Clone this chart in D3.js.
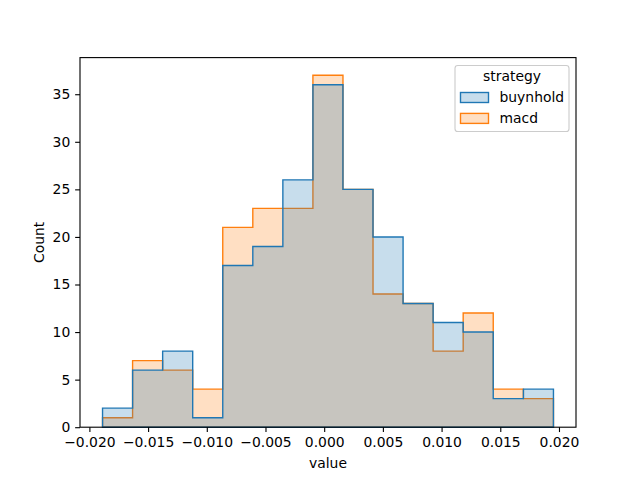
<!DOCTYPE html>
<html>
<head>
<meta charset="utf-8">
<script src="https://cdn.jsdelivr.net/npm/d3@7"></script>
<style>
  body { margin: 0; background: #fff; }
  svg { display: block; font-family: "DejaVu Sans", sans-serif; }
</style>
</head>
<body>
<svg id="chart" width="640" height="480"></svg>
<script>
// Data
const binEdges = [-0.01888, -0.01632, -0.01376, -0.01120, -0.00864, -0.00608, -0.00352, -0.00096,
                  0.00160, 0.00416, 0.00672, 0.00928, 0.01184, 0.01440, 0.01697, 0.01953];
const buynhold = [2, 6, 8, 1, 17, 19, 26, 36, 25, 20, 13, 11, 10, 3, 4];
const macd     = [1, 7, 6, 4, 21, 23, 23, 37, 25, 14, 13, 8, 12, 4, 3];
const seriesNames = ["buynhold", "macd"];
const seriesColors = ["#1f77b4", "#ff7f0e"];
const xTicks = [-0.020, -0.015, -0.010, -0.005, 0.000, 0.005, 0.010, 0.015, 0.020];
const yTicks = [0, 5, 10, 15, 20, 25, 30, 35];

const svg = d3.select("#chart");
const L = 80, R = 576, T = 57.6, B = 427.2;
const fs = 13.9;

const x = d3.scaleLinear().domain([-0.0208, 0.02145]).range([L, R]);
const y = d3.scaleLinear().domain([0, 38.85]).range([B, T]);

function stepPoints(counts) {
  const pts = [[binEdges[0], 0]];
  counts.forEach((c, i) => { pts.push([binEdges[i], c]); pts.push([binEdges[i + 1], c]); });
  pts.push([binEdges[binEdges.length - 1], 0]);
  return pts;
}
const line = d3.line().x(d => x(d[0])).y(d => y(d[1]));

const series = [buynhold, macd];
// draw in reverse order so first level sits on top
for (let k = series.length - 1; k >= 0; k--) {
  const col = d3.color(seriesColors[k]);
  const fill = d3.color(seriesColors[k]); fill.opacity = 0.25;
  svg.append("path")
    .attr("d", line(stepPoints(series[k])) + "Z")
    .attr("fill", fill.toString())
    .attr("stroke", col.toString())
    .attr("stroke-width", 1.39)
    .attr("stroke-linejoin", "miter");
}

// Axes
const xAxis = d3.axisBottom(x).tickValues(xTicks).tickSize(4.86).tickPadding(4.86)
  .tickFormat(d => d3.format(".3f")(d).replace("-", "\u2212"));
const gx = svg.append("g").attr("transform", `translate(0,${B})`).call(xAxis);
const yAxis = d3.axisLeft(y).tickValues(yTicks).tickSize(4.86).tickPadding(4.86)
  .tickFormat(d3.format("d"));
const gy = svg.append("g").attr("transform", `translate(${L},0)`).call(yAxis);
[gx, gy].forEach(g => {
  g.select(".domain").remove();
  g.selectAll(".tick line").attr("stroke", "#000").attr("stroke-width", 1.11);
  g.selectAll(".tick text").attr("font-size", fs).attr("fill", "#000")
    .attr("font-family", "DejaVu Sans, sans-serif");
});

// Spines
svg.append("rect").attr("x", L).attr("y", T).attr("width", R - L).attr("height", B - T)
  .attr("fill", "none").attr("stroke", "#000").attr("stroke-width", 1.11);

// Axis labels
svg.append("text").attr("x", (L + R) / 2).attr("y", 468).attr("text-anchor", "middle")
  .attr("font-size", fs).text("value");
svg.append("text").attr("transform", `translate(44,${(T + B) / 2}) rotate(-90)`)
  .attr("text-anchor", "middle").attr("font-size", fs).text("Count");

// Legend
const lg = svg.append("g");
lg.append("rect").attr("x", 455).attr("y", 65.5).attr("width", 114).attr("height", 66)
  .attr("rx", 2.8).attr("fill", "rgba(255,255,255,0.8)").attr("stroke", "#cccccc").attr("stroke-width", 1.11);
lg.append("text").attr("x", 512).attr("y", 80.5).attr("text-anchor", "middle")
  .attr("font-size", fs).text("strategy");
seriesNames.forEach((name, i) => {
  const yy = 92.5 + i * 20.9;
  const fill = d3.color(seriesColors[i]); fill.opacity = 0.25;
  lg.append("rect").attr("x", 460.5).attr("y", yy).attr("width", 28).attr("height", 10)
    .attr("fill", fill.toString()).attr("stroke", seriesColors[i]).attr("stroke-width", 1.39);
  lg.append("text").attr("x", 499.5).attr("y", yy + 9.5).attr("font-size", fs).text(name);
});
</script>
</body>
</html>
